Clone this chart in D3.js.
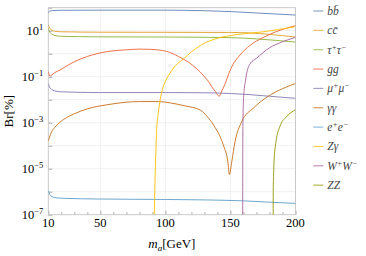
<!DOCTYPE html>
<html>
<head>
<meta charset="utf-8">
<script src="https://cdn.jsdelivr.net/npm/d3@7"></script>
<style>
body { margin: 0; background: #fff; }
svg text { font-family: "Liberation Serif", "Times New Roman", serif; }
</style>
</head>
<body>
<div class="chart"></div>
<script>
// Branching ratios in % as [m_a, Br]
var brBB = [[10, 60], [10.5, 68], [11.5, 72], [13, 75], [20, 77], [50, 78], [100, 78], [130, 74], [150, 68], [170, 59], [185, 53], [200, 48]];
var brCC = [[10, 18], [11, 13], [12.5, 10.5], [15, 9.5], [20, 9.0], [50, 8.6], [100, 8.5], [150, 8.4], [165, 8.0], [180, 6.9], [200, 5.3]];
var brTauTau = [[10, 12.6], [11, 9.0], [12.5, 7.2], [15, 6.2], [20, 5.7], [50, 5.4], [100, 5.3], [150, 5.0], [170, 4.4], [185, 3.8], [200, 3.2]];
var brGG = [[10, 0.166], [10.7, 0.117], [11.3, 0.107], [12.5, 0.117], [15, 0.151], [19, 0.195], [25, 0.316], [30, 0.447], [40, 0.76], [55, 1.23], [70, 1.48], [80.5, 1.58], [88, 1.55], [101, 1.26], [104, 1.10], [110, 0.76], [119, 0.38], [124, 0.224], [129, 0.117], [133, 0.063], [135.6, 0.037], [138.5, 0.0224], [141.3, 0.0141], [143.5, 0.025], [146, 0.051], [148.5, 0.126], [151, 0.27], [157.3, 0.87], [165, 2.3], [175, 5.0], [185, 9.0], [200, 16.6]];
var brMuMu = [[10, 0.051], [11, 0.035], [12.5, 0.028], [15, 0.024], [20, 0.022], [50, 0.0204], [100, 0.0204], [130, 0.020], [150, 0.0186], [165, 0.0166], [180, 0.0141], [200, 0.0115]];
var brGamGam = [[10, 1.6e-4], [11, 2.4e-4], [12.5, 4.0e-4], [15, 6.3e-4], [19, 1.05e-3], [24, 1.66e-3], [29, 2.3e-3], [40, 4.0e-3], [55, 6.0e-3], [80, 8.3e-3], [95, 8.3e-3], [104, 7.2e-3], [115, 5.4e-3], [127, 3.5e-3], [132, 1.9e-3], [137, 7.9e-4], [144.5, 1.07e-4], [148, 2.0e-5], [149.2, 5.6e-6], [151, 2.0e-5], [153.5, 1.48e-4], [158.6, 1.1e-3], [167.6, 4.3e-3], [179, 0.0141], [190, 0.030], [200, 0.051]];
var brEE = [[10, 1.1e-6], [11, 7.9e-7], [12.5, 6.3e-7], [15, 5.6e-7], [20, 5.2e-7], [50, 4.8e-7], [100, 4.6e-7], [130, 4.4e-7], [160, 4.0e-7], [180, 3.5e-7], [200, 3.1e-7]];
var brZGam = [[91.2, 1e-8], [91.5, 1e-7], [92, 2.5e-6], [92.6, 4e-5], [93.3, 5e-4], [94.5, 2.5e-3], [96, 0.01], [98, 0.032], [100, 0.063], [103.5, 0.141], [108, 0.316], [114, 0.60], [120, 1.2], [127, 2.3], [139, 4.5], [155, 6.8], [175, 8.9], [200, 15]];
var brWW = [[159.4, 1e-8], [159.45, 1e-5], [159.6, 1e-3], [159.9, 6.3e-3], [160.5, 0.025], [161.5, 0.063], [162.5, 0.141], [165, 0.355], [170, 0.63], [180, 1.8], [190, 3.3], [200, 5.1]];
var brZZ = [[182.8, 1e-8], [182.9, 1e-6], [183.2, 6.3e-6], [183.5, 2.0e-5], [185, 1.5e-4], [188, 6.8e-4], [193, 1.8e-3], [200, 3.7e-3]];

var channels = ["bb\u0304", "cc\u0304", "\u03c4^+\u03c4^\u2212", "gg", "\u03bc^+\u03bc^\u2212", "\u03b3\u03b3", "e^+e^\u2212", "Z\u03b3", "W^+W^\u2212", "ZZ"];
var seriesData = [brBB, brCC, brTauTau, brGG, brMuMu, brGamGam, brEE, brZGam, brWW, brZZ];
// Mathematica default palette
var colors = ["#5E81B5", "#E19C24", "#8FB032", "#EB6235", "#8778B3", "#C56E1A", "#5D9EC7", "#FFBF00", "#A5609D", "#929600"];

var xTicks = [10, 50, 100, 150, 200];
var yTickExps = [1, -1, -3, -5, -7];

// SVG size, margin, etc.
var svgWidth = 366;
var svgHeight = 256;
var margin = { top: 7.7, right: 70.5, bottom: 41.3, left: 48.3 };
var width = svgWidth - margin.left - margin.right;
var height = svgHeight - margin.top - margin.bottom;

var svg = d3.select(".chart")
    .append("svg")
    .attr("width", svgWidth)
    .attr("height", svgHeight)
    .attr("font-family", "Liberation Serif, serif");

var chartGroup = svg.append("g")
    .attr("transform", `translate(${margin.left}, ${margin.top})`);

var xScale = d3.scaleLinear().domain([10, 200]).range([0, width]);
var yScale = d3.scaleLog().domain([1e-7, 1e2]).range([height, 0]);

// grid lines
var decades = d3.range(-7, 3).map(e => Math.pow(10, e));
chartGroup.append("g")
    .selectAll("line")
    .data(decades.slice(1, -1))
    .enter()
    .append("line")
    .attr("x1", 0).attr("x2", width)
    .attr("y1", d => yScale(d)).attr("y2", d => yScale(d))
    .attr("stroke", "#ececec")
    .attr("stroke-width", 0.8);

chartGroup.append("g")
    .selectAll("line")
    .data([50, 100, 150])
    .enter()
    .append("line")
    .attr("y1", 0).attr("y2", height)
    .attr("x1", d => xScale(d)).attr("x2", d => xScale(d))
    .attr("stroke", "#ececec")
    .attr("stroke-width", 0.8);

// bottom axis: ticks point inward
var bottomAxis = d3.axisBottom(xScale)
    .tickValues(d3.range(10, 201, 10))
    .tickSize(-2.5)
    .tickFormat("");
chartGroup.append("g")
    .attr("transform", `translate(0, ${height})`)
    .call(bottomAxis)
    .call(g => g.select(".domain").remove())
    .call(g => g.selectAll(".tick line")
        .attr("stroke", "#aaa")
        .attr("y2", d => xTicks.indexOf(d) >= 0 ? -4 : -2.5));

var leftAxis = d3.axisLeft(yScale)
    .tickValues(decades)
    .tickSize(-4)
    .tickFormat("");
chartGroup.append("g")
    .call(leftAxis)
    .call(g => g.select(".domain").remove())
    .call(g => g.selectAll(".tick line").attr("stroke", "#aaa"));

// frame
chartGroup.append("rect")
    .attr("width", width)
    .attr("height", height)
    .attr("fill", "none")
    .attr("stroke", "#c4c4c4")
    .attr("stroke-width", 0.9);

// x tick labels
chartGroup.append("g")
    .selectAll("text")
    .data(xTicks)
    .enter()
    .append("text")
    .attr("x", d => xScale(d))
    .attr("y", height + 12.8)
    .attr("text-anchor", "middle")
    .attr("font-size", 12.5)
    .text(d => d);

// y tick labels 10^n
var yLabels = chartGroup.append("g")
    .selectAll("text")
    .data(yTickExps)
    .enter()
    .append("text")
    .attr("x", -5)
    .attr("y", d => yScale(Math.pow(10, d)) + 4.2)
    .attr("text-anchor", "end")
    .attr("font-size", 12.5);
yLabels.append("tspan").text("10");
yLabels.append("tspan")
    .attr("dy", -5)
    .attr("font-size", 8.5)
    .text(d => d < 0 ? "\u2212" + (-d) : d);

// axis titles
svg.append("text")
    .attr("transform", `translate(13, ${margin.top + height / 2}) rotate(-90)`)
    .attr("text-anchor", "middle")
    .attr("font-size", 13)
    .text("Br[%]");

var xTitle = svg.append("text")
    .attr("x", margin.left + width / 2)
    .attr("y", 248)
    .attr("text-anchor", "middle")
    .attr("font-size", 13);
xTitle.append("tspan").attr("font-style", "italic").text("m");
xTitle.append("tspan").attr("font-style", "italic").attr("font-size", 9).attr("dy", 2.5).text("a");
xTitle.append("tspan").attr("dy", -2.5).text("[GeV]");

// curves
chartGroup.append("clipPath")
    .attr("id", "plotClip")
    .append("rect")
    .attr("width", width)
    .attr("height", height);

var line = d3.line()
    .x(d => xScale(d[0]))
    .y(d => yScale(d[1]))
    .curve(d3.curveMonotoneX);

chartGroup.append("g")
    .attr("clip-path", "url(#plotClip)")
    .selectAll("path")
    .data(seriesData)
    .enter()
    .append("path")
    .attr("d", line)
    .attr("fill", "none")
    .attr("stroke", (d, i) => colors[i])
    .attr("stroke-width", 1)
    .attr("stroke-opacity", 0.9);

// legend
function richText(sel, str) {
    var parts = str.split(/(\^.)/).filter(p => p.length);
    var raised = false;
    parts.forEach(function(p) {
        if (p[0] === "^") {
            sel.append("tspan").attr("dy", -4).attr("font-size", 8).text(p[1]);
            raised = true;
        } else {
            sel.append("tspan").attr("dy", raised ? 4 : 0).text(p);
            raised = false;
        }
    });
}

var legend = svg.append("g")
    .selectAll("g")
    .data(channels)
    .enter()
    .append("g")
    .attr("transform", (d, i) => `translate(313.3, ${11 + i * 19.35})`);

legend.append("line")
    .attr("x1", 0).attr("x2", 10)
    .attr("stroke", (d, i) => colors[i])
    .attr("stroke-width", 1.1)
    .attr("stroke-opacity", 0.75);

legend.append("text")
    .attr("x", 14)
    .attr("y", 3.8)
    .attr("font-size", 11.5)
    .attr("font-style", "italic")
    .attr("fill", "#444")
    .each(function(d) { richText(d3.select(this), d); });
</script>
</body>
</html>
